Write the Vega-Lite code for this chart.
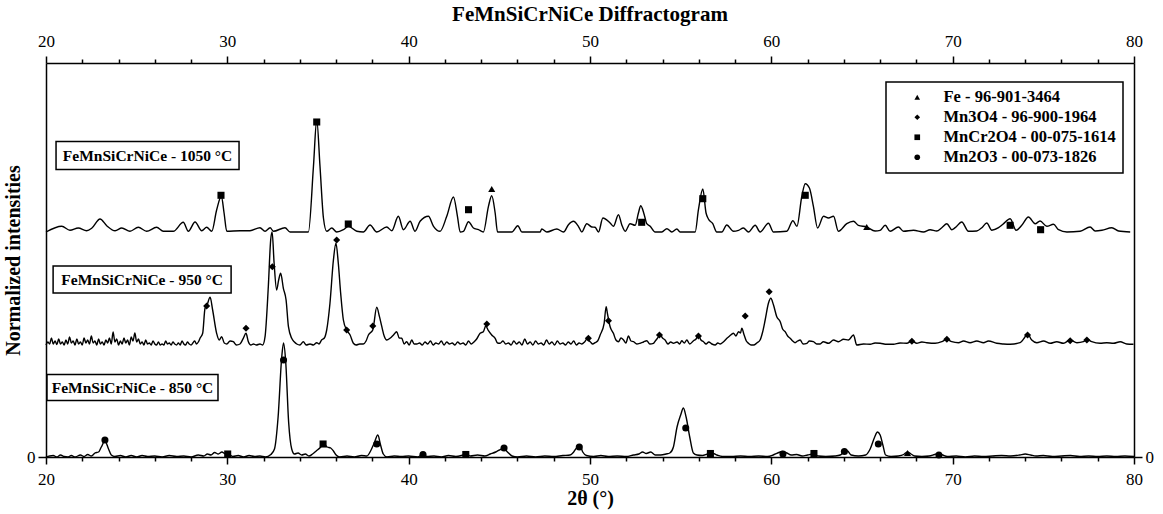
{
"$schema": "https://vega.github.io/schema/vega-lite/v6.json",
"width": 1088, "height": 394,
"autosize": "none",
"padding": {"left": 46, "top": 63, "right": 29, "bottom": 57},
"background": "white",
"title": {"text": "FeMnSiCrNiCe Diffractogram", "font": "Liberation Serif", "fontSize": 21, "fontWeight": "bold", "offset": 7, "anchor": "middle", "color": "black"},
"config": {
 "view": {"stroke": null},
 "axis": {"domainColor": "black", "domainWidth": 1.5, "tickColor": "black", "tickWidth": 1.5, "labelFont": "Liberation Serif", "labelFontSize": 17, "labelColor": "black", "titleFont": "Liberation Serif", "titleFontWeight": "bold", "titleFontSize": 20, "titleColor": "black", "grid": false, "labelFlush": false, "labelOverlap": false},
 "legend": {"strokeWidth": 1.5}
},
"resolve": {"axis": {"x": "independent", "y": "independent"}},
"datasets": {
"trace": [
{"s":"1050","t":20,"i":225},{"s":"1050","t":20.87,"i":230.7},{"s":"1050","t":21.32,"i":226.7},{"s":"1050","t":21.78,"i":229},{"s":"1050","t":22.24,"i":226.3},{"s":"1050","t":22.52,"i":228.7},{"s":"1050","t":22.98,"i":238},{"s":"1050","t":23.35,"i":231.3},{"s":"1050","t":23.81,"i":226.3},{"s":"1050","t":24.18,"i":229},{"s":"1050","t":24.63,"i":225.7},{"s":"1050","t":25.09,"i":229.7},{"s":"1050","t":25.55,"i":225.7},{"s":"1050","t":26.1,"i":229.7},{"s":"1050","t":26.47,"i":225.7},{"s":"1050","t":27.02,"i":225.7},{"s":"1050","t":27.57,"i":234.7},{"s":"1050","t":27.85,"i":225.7},{"s":"1050","t":28.22,"i":235},{"s":"1050","t":28.59,"i":226.3},{"s":"1050","t":28.86,"i":229.7},{"s":"1050","t":29.14,"i":225.7},{"s":"1050","t":29.41,"i":247},{"s":"1050","t":29.67,"i":260.7},{"s":"1050","t":29.82,"i":244},{"s":"1050","t":29.97,"i":225.7},{"s":"1050","t":30.71,"i":226.3},{"s":"1050","t":31.25,"i":226.3},{"s":"1050","t":31.8,"i":229.3},{"s":"1050","t":32.08,"i":225.7},{"s":"1050","t":32.36,"i":229.3},{"s":"1050","t":32.54,"i":225.7},{"s":"1050","t":33.18,"i":229.3},{"s":"1050","t":33.46,"i":225},{"s":"1050","t":34.47,"i":225},{"s":"1050","t":34.75,"i":290.7},{"s":"1050","t":34.93,"i":337.3},{"s":"1050","t":35.11,"i":290.7},{"s":"1050","t":35.3,"i":239},{"s":"1050","t":35.48,"i":225.7},{"s":"1050","t":35.76,"i":229},{"s":"1050","t":36.03,"i":225},{"s":"1050","t":36.4,"i":227.3},{"s":"1050","t":36.67,"i":230.7},{"s":"1050","t":37.14,"i":225.7},{"s":"1050","t":37.5,"i":225},{"s":"1050","t":37.87,"i":232},{"s":"1050","t":38.24,"i":225},{"s":"1050","t":38.79,"i":230},{"s":"1050","t":39.07,"i":226.3},{"s":"1050","t":39.43,"i":240.7},{"s":"1050","t":39.71,"i":227.3},{"s":"1050","t":40.08,"i":235.7},{"s":"1050","t":40.35,"i":225.7},{"s":"1050","t":40.63,"i":235.7},{"s":"1050","t":41.09,"i":240.7},{"s":"1050","t":41.37,"i":230.7},{"s":"1050","t":41.73,"i":225.7},{"s":"1050","t":42.1,"i":240.7},{"s":"1050","t":42.47,"i":260},{"s":"1050","t":42.69,"i":240.7},{"s":"1050","t":42.84,"i":225},{"s":"1050","t":43.02,"i":225.7},{"s":"1050","t":43.3,"i":235.3},{"s":"1050","t":43.57,"i":229},{"s":"1050","t":43.85,"i":227.3},{"s":"1050","t":44.12,"i":225},{"s":"1050","t":44.4,"i":250.7},{"s":"1050","t":44.58,"i":261.3},{"s":"1050","t":44.77,"i":244},{"s":"1050","t":44.9,"i":225},{"s":"1050","t":45.69,"i":225},{"s":"1050","t":46.02,"i":231.3},{"s":"1050","t":46.24,"i":225},{"s":"1050","t":47.25,"i":225},{"s":"1050","t":47.34,"i":228},{"s":"1050","t":47.62,"i":225},{"s":"1050","t":48.17,"i":228},{"s":"1050","t":48.54,"i":225},{"s":"1050","t":48.81,"i":232.3},{"s":"1050","t":49.09,"i":235.7},{"s":"1050","t":49.36,"i":230.7},{"s":"1050","t":49.55,"i":225},{"s":"1050","t":49.82,"i":233.3},{"s":"1050","t":50.1,"i":230},{"s":"1050","t":50.28,"i":229.7},{"s":"1050","t":50.47,"i":225},{"s":"1050","t":50.71,"i":239},{"s":"1050","t":51.11,"i":234},{"s":"1050","t":51.29,"i":230.7},{"s":"1050","t":51.57,"i":242.3},{"s":"1050","t":51.75,"i":232.3},{"s":"1050","t":51.94,"i":225.7},{"s":"1050","t":52.21,"i":233.3},{"s":"1050","t":52.49,"i":231.7},{"s":"1050","t":52.67,"i":244},{"s":"1050","t":52.8,"i":251.3},{"s":"1050","t":52.99,"i":242.3},{"s":"1050","t":53.13,"i":233.3},{"s":"1050","t":53.32,"i":230.7},{"s":"1050","t":53.59,"i":225},{"s":"1050","t":53.96,"i":225},{"s":"1050","t":54.24,"i":228.3},{"s":"1050","t":54.51,"i":225},{"s":"1050","t":54.79,"i":228},{"s":"1050","t":54.97,"i":225},{"s":"1050","t":55.8,"i":225},{"s":"1050","t":55.98,"i":247.3},{"s":"1050","t":56.22,"i":268},{"s":"1050","t":56.4,"i":244},{"s":"1050","t":56.53,"i":238},{"s":"1050","t":56.77,"i":233.3},{"s":"1050","t":56.99,"i":225},{"s":"1050","t":57.27,"i":225},{"s":"1050","t":57.54,"i":232},{"s":"1050","t":57.91,"i":225.7},{"s":"1050","t":58.19,"i":226.7},{"s":"1050","t":58.46,"i":229},{"s":"1050","t":58.74,"i":225},{"s":"1050","t":59.11,"i":231.7},{"s":"1050","t":59.38,"i":225},{"s":"1050","t":59.84,"i":233.7},{"s":"1050","t":60.12,"i":225},{"s":"1050","t":60.85,"i":225.7},{"s":"1050","t":61.19,"i":236.3},{"s":"1050","t":61.41,"i":230.7},{"s":"1050","t":61.68,"i":260.7},{"s":"1050","t":61.87,"i":273.3},{"s":"1050","t":62.1,"i":269},{"s":"1050","t":62.32,"i":250.7},{"s":"1050","t":62.55,"i":229},{"s":"1050","t":62.88,"i":240.7},{"s":"1050","t":63.15,"i":239},{"s":"1050","t":63.43,"i":240.7},{"s":"1050","t":63.7,"i":225.7},{"s":"1050","t":64.16,"i":233.3},{"s":"1050","t":64.53,"i":235.7},{"s":"1050","t":64.8,"i":231.7},{"s":"1050","t":65.26,"i":230},{"s":"1050","t":65.72,"i":226},{"s":"1050","t":66,"i":226.7},{"s":"1050","t":66.28,"i":231.7},{"s":"1050","t":66.55,"i":225.7},{"s":"1050","t":67.01,"i":230},{"s":"1050","t":67.29,"i":225.7},{"s":"1050","t":67.84,"i":226.7},{"s":"1050","t":68.39,"i":225},{"s":"1050","t":68.76,"i":227.3},{"s":"1050","t":69.12,"i":226},{"s":"1050","t":69.4,"i":229.3},{"s":"1050","t":69.68,"i":233.3},{"s":"1050","t":69.95,"i":227.3},{"s":"1050","t":70.14,"i":229.3},{"s":"1050","t":70.5,"i":235},{"s":"1050","t":70.87,"i":225.7},{"s":"1050","t":71.33,"i":226},{"s":"1050","t":71.61,"i":229.3},{"s":"1050","t":71.88,"i":234},{"s":"1050","t":72.16,"i":226.7},{"s":"1050","t":72.53,"i":229.3},{"s":"1050","t":72.77,"i":232.7},{"s":"1050","t":73.17,"i":238.3},{"s":"1050","t":73.5,"i":226.7},{"s":"1050","t":73.81,"i":231.7},{"s":"1050","t":74.18,"i":240},{"s":"1050","t":74.55,"i":233.3},{"s":"1050","t":74.82,"i":236},{"s":"1050","t":75.19,"i":230.7},{"s":"1050","t":75.56,"i":232.7},{"s":"1050","t":75.84,"i":227.3},{"s":"1050","t":76.3,"i":225},{"s":"1050","t":77.03,"i":225.7},{"s":"1050","t":77.58,"i":230},{"s":"1050","t":77.86,"i":226},{"s":"1050","t":78.23,"i":226.7},{"s":"1050","t":78.78,"i":229.3},{"s":"1050","t":79.15,"i":226},{"s":"1050","t":79.79,"i":225},
{"s":"950","t":20,"i":112},{"s":"950","t":20.1,"i":115},{"s":"950","t":20.2,"i":113},{"s":"950","t":20.3,"i":119},{"s":"950","t":20.4,"i":113},{"s":"950","t":20.5,"i":116},{"s":"950","t":20.6,"i":112.5},{"s":"950","t":20.7,"i":118},{"s":"950","t":20.8,"i":113},{"s":"950","t":20.9,"i":115},{"s":"950","t":21,"i":112},{"s":"950","t":21.1,"i":117},{"s":"950","t":21.2,"i":113},{"s":"950","t":21.3,"i":120},{"s":"950","t":21.4,"i":114},{"s":"950","t":21.5,"i":116},{"s":"950","t":21.6,"i":112},{"s":"950","t":21.7,"i":118},{"s":"950","t":21.8,"i":113},{"s":"950","t":21.9,"i":115},{"s":"950","t":22,"i":112},{"s":"950","t":22.1,"i":119},{"s":"950","t":22.2,"i":114},{"s":"950","t":22.3,"i":117},{"s":"950","t":22.4,"i":113},{"s":"950","t":22.5,"i":121},{"s":"950","t":22.6,"i":114},{"s":"950","t":22.7,"i":116},{"s":"950","t":22.8,"i":112},{"s":"950","t":22.9,"i":118},{"s":"950","t":23,"i":113},{"s":"950","t":23.1,"i":115},{"s":"950","t":23.2,"i":112},{"s":"950","t":23.3,"i":117},{"s":"950","t":23.4,"i":114},{"s":"950","t":23.5,"i":119},{"s":"950","t":23.6,"i":113},{"s":"950","t":23.7,"i":125},{"s":"950","t":23.8,"i":115},{"s":"950","t":23.9,"i":118},{"s":"950","t":24,"i":112},{"s":"950","t":24.1,"i":116},{"s":"950","t":24.2,"i":113},{"s":"950","t":24.3,"i":119},{"s":"950","t":24.4,"i":114},{"s":"950","t":24.5,"i":117},{"s":"950","t":24.6,"i":112},{"s":"950","t":24.7,"i":120},{"s":"950","t":24.8,"i":116},{"s":"950","t":24.9,"i":124},{"s":"950","t":25,"i":115},{"s":"950","t":25.1,"i":118},{"s":"950","t":25.2,"i":113},{"s":"950","t":25.3,"i":115},{"s":"950","t":25.4,"i":112},{"s":"950","t":25.5,"i":117},{"s":"950","t":25.6,"i":113},{"s":"950","t":25.7,"i":114},{"s":"950","t":25.8,"i":112},{"s":"950","t":25.9,"i":116},{"s":"950","t":26,"i":113},{"s":"950","t":26.1,"i":112},{"s":"950","t":26.2,"i":115},{"s":"950","t":26.3,"i":112},{"s":"950","t":26.4,"i":113},{"s":"950","t":26.5,"i":112},{"s":"950","t":26.6,"i":116},{"s":"950","t":26.7,"i":113},{"s":"950","t":26.8,"i":114},{"s":"950","t":26.9,"i":112},{"s":"950","t":27,"i":115},{"s":"950","t":27.1,"i":113},{"s":"950","t":27.2,"i":112},{"s":"950","t":27.3,"i":114},{"s":"950","t":27.4,"i":112},{"s":"950","t":27.5,"i":116},{"s":"950","t":27.6,"i":113},{"s":"950","t":27.7,"i":112},{"s":"950","t":27.8,"i":115},{"s":"950","t":27.9,"i":113},{"s":"950","t":28,"i":112},{"s":"950","t":28.1,"i":114},{"s":"950","t":28.2,"i":116},{"s":"950","t":28.3,"i":113},{"s":"950","t":28.4,"i":115},{"s":"950","t":28.5,"i":119},
{"s":"950","t":28.64,"i":123.7},{"s":"950","t":28.77,"i":148.7},{"s":"950","t":28.86,"i":151},{"s":"950","t":29.05,"i":159.7},{"s":"950","t":29.19,"i":147},{"s":"950","t":29.41,"i":123.7},{"s":"950","t":29.55,"i":117},{"s":"950","t":29.69,"i":120.3},{"s":"950","t":29.83,"i":114},{"s":"950","t":29.97,"i":113},{"s":"950","t":30.15,"i":116},{"s":"950","t":30.33,"i":115.3},{"s":"950","t":30.5,"i":112},{"s":"950","t":30.7,"i":113},{"s":"950","t":30.88,"i":118.7},{"s":"950","t":31.03,"i":123.7},{"s":"950","t":31.16,"i":115.3},{"s":"950","t":31.3,"i":112},{"s":"950","t":31.44,"i":113},{"s":"950","t":31.6,"i":112},{"s":"950","t":31.8,"i":113},{"s":"950","t":31.95,"i":112},{"s":"950","t":32.08,"i":120.3},{"s":"950","t":32.26,"i":170.3},{"s":"950","t":32.39,"i":217},{"s":"950","t":32.47,"i":225},{"s":"950","t":32.58,"i":193.7},{"s":"950","t":32.72,"i":167},{"s":"950","t":32.83,"i":177},{"s":"950","t":32.94,"i":183.7},{"s":"950","t":33.09,"i":168.7},{"s":"950","t":33.24,"i":157},{"s":"950","t":33.37,"i":130.3},{"s":"950","t":33.55,"i":118.7},{"s":"950","t":33.7,"i":115},{"s":"950","t":33.83,"i":113},{"s":"950","t":34,"i":112},{"s":"950","t":34.19,"i":115.3},{"s":"950","t":34.35,"i":112},{"s":"950","t":34.56,"i":113},{"s":"950","t":34.75,"i":112},{"s":"950","t":34.93,"i":114.3},{"s":"950","t":35.05,"i":113},{"s":"950","t":35.2,"i":117},{"s":"950","t":35.35,"i":119},{"s":"950","t":35.48,"i":127},{"s":"950","t":35.66,"i":153.7},{"s":"950","t":35.85,"i":197},{"s":"950","t":35.99,"i":213.7},{"s":"950","t":36.12,"i":193.7},{"s":"950","t":36.25,"i":163.7},{"s":"950","t":36.4,"i":137},{"s":"950","t":36.58,"i":127},{"s":"950","t":36.77,"i":122},{"s":"950","t":36.95,"i":113.7},{"s":"950","t":37.1,"i":112},{"s":"950","t":37.3,"i":113},{"s":"950","t":37.5,"i":113},{"s":"950","t":37.65,"i":116},{"s":"950","t":37.78,"i":122},{"s":"950","t":38.02,"i":127},{"s":"950","t":38.24,"i":149.7},{"s":"950","t":38.39,"i":140.3},{"s":"950","t":38.52,"i":130.3},{"s":"950","t":38.65,"i":121},{"s":"950","t":38.79,"i":117},{"s":"950","t":38.97,"i":118.7},{"s":"950","t":39.16,"i":122},{"s":"950","t":39.34,"i":125.3},{"s":"950","t":39.48,"i":119},{"s":"950","t":39.62,"i":118.7},{"s":"950","t":39.75,"i":113},{"s":"950","t":39.89,"i":115.3},{"s":"950","t":40.03,"i":112},{"s":"950","t":40.17,"i":117},{"s":"950","t":40.3,"i":113},{"s":"950","t":40.45,"i":113},
{"s":"950","t":40.6,"i":114},{"s":"950","t":40.75,"i":112},{"s":"950","t":40.9,"i":115},{"s":"950","t":41.05,"i":113},{"s":"950","t":41.2,"i":116},{"s":"950","t":41.35,"i":112},{"s":"950","t":41.5,"i":114},{"s":"950","t":41.65,"i":113},{"s":"950","t":41.8,"i":116},{"s":"950","t":41.95,"i":112},{"s":"950","t":42.1,"i":115},{"s":"950","t":42.25,"i":113},{"s":"950","t":42.4,"i":114},{"s":"950","t":42.55,"i":112},{"s":"950","t":42.7,"i":115},{"s":"950","t":42.85,"i":113},{"s":"950","t":43,"i":114},{"s":"950","t":43.15,"i":112},{"s":"950","t":43.3,"i":116},{"s":"950","t":43.45,"i":113},{"s":"950","t":43.6,"i":115},{"s":"950","t":43.75,"i":118},
{"s":"950","t":43.94,"i":123.7},{"s":"950","t":44.12,"i":125.3},{"s":"950","t":44.25,"i":131},{"s":"950","t":44.4,"i":126.3},{"s":"950","t":44.58,"i":122},{"s":"950","t":44.77,"i":118.7},{"s":"950","t":44.9,"i":114},{"s":"950","t":45.04,"i":113.7},
{"s":"950","t":45.2,"i":116},{"s":"950","t":45.35,"i":113},{"s":"950","t":45.5,"i":114},{"s":"950","t":45.65,"i":112},{"s":"950","t":45.8,"i":116},{"s":"950","t":45.95,"i":113},{"s":"950","t":46.1,"i":115},{"s":"950","t":46.25,"i":112},{"s":"950","t":46.4,"i":118},{"s":"950","t":46.55,"i":113},{"s":"950","t":46.7,"i":115},{"s":"950","t":46.85,"i":112},{"s":"950","t":47,"i":116},{"s":"950","t":47.15,"i":113},{"s":"950","t":47.3,"i":114},{"s":"950","t":47.45,"i":112},{"s":"950","t":47.6,"i":117},{"s":"950","t":47.75,"i":113},{"s":"950","t":47.9,"i":115},{"s":"950","t":48.05,"i":112},{"s":"950","t":48.2,"i":116},{"s":"950","t":48.35,"i":113},{"s":"950","t":48.5,"i":114},{"s":"950","t":48.65,"i":112},{"s":"950","t":48.8,"i":115},{"s":"950","t":48.95,"i":113},{"s":"950","t":49.1,"i":116},{"s":"950","t":49.25,"i":112},{"s":"950","t":49.4,"i":114},{"s":"950","t":49.55,"i":113},{"s":"950","t":49.7,"i":115},
{"s":"950","t":49.82,"i":117.7},{"s":"950","t":50.01,"i":115.3},{"s":"950","t":50.15,"i":113},{"s":"950","t":50.28,"i":114.3},{"s":"950","t":50.42,"i":116},{"s":"950","t":50.56,"i":122},{"s":"950","t":50.78,"i":133.7},{"s":"950","t":50.89,"i":150.3},{"s":"950","t":50.96,"i":143.7},{"s":"950","t":51.11,"i":130.3},{"s":"950","t":51.29,"i":123.7},{"s":"950","t":51.43,"i":117},{"s":"950","t":51.57,"i":115.3},{"s":"950","t":51.71,"i":119},{"s":"950","t":51.85,"i":117},{"s":"950","t":51.98,"i":114},{"s":"950","t":52.12,"i":121},{"s":"950","t":52.26,"i":116},{"s":"950","t":52.4,"i":115.3},{"s":"950","t":52.58,"i":113},{"s":"950","t":52.76,"i":113.7},{"s":"950","t":52.95,"i":115},{"s":"950","t":53.13,"i":116.3},{"s":"950","t":53.3,"i":113},{"s":"950","t":53.5,"i":113.7},{"s":"950","t":53.6,"i":116},{"s":"950","t":53.72,"i":118.7},{"s":"950","t":53.87,"i":122},{"s":"950","t":54,"i":119},{"s":"950","t":54.14,"i":117},{"s":"950","t":54.3,"i":113},{"s":"950","t":54.45,"i":115},{"s":"950","t":54.6,"i":113.7},{"s":"950","t":54.8,"i":115},{"s":"950","t":54.95,"i":113},{"s":"950","t":55.06,"i":116.3},{"s":"950","t":55.2,"i":114},{"s":"950","t":55.34,"i":117},{"s":"950","t":55.5,"i":113},{"s":"950","t":55.71,"i":116.3},{"s":"950","t":55.85,"i":118},{"s":"950","t":55.98,"i":122},{"s":"950","t":56.12,"i":117},{"s":"950","t":56.26,"i":115.3},{"s":"950","t":56.4,"i":113},{"s":"950","t":56.55,"i":115},{"s":"950","t":56.72,"i":113},{"s":"950","t":56.9,"i":112},{"s":"950","t":57.05,"i":114},{"s":"950","t":57.18,"i":113},{"s":"950","t":57.35,"i":115},{"s":"950","t":57.55,"i":118.7},{"s":"950","t":57.7,"i":121},{"s":"950","t":57.91,"i":123.7},{"s":"950","t":58.05,"i":121},{"s":"950","t":58.19,"i":125.3},{"s":"950","t":58.3,"i":124},{"s":"950","t":58.37,"i":128.7},{"s":"950","t":58.5,"i":122},{"s":"950","t":58.62,"i":116},{"s":"950","t":58.74,"i":113.7},{"s":"950","t":58.88,"i":112},{"s":"950","t":59.02,"i":112},{"s":"950","t":59.2,"i":114},{"s":"950","t":59.38,"i":117},{"s":"950","t":59.52,"i":125},{"s":"950","t":59.66,"i":137},{"s":"950","t":59.84,"i":153.7},{"s":"950","t":59.97,"i":158.7},{"s":"950","t":60.12,"i":152},{"s":"950","t":60.3,"i":140.3},{"s":"950","t":60.49,"i":135.3},{"s":"950","t":60.62,"i":128},{"s":"950","t":60.76,"i":125.3},{"s":"950","t":60.9,"i":121},{"s":"950","t":61.04,"i":118.7},{"s":"950","t":61.18,"i":116},{"s":"950","t":61.31,"i":114.3},{"s":"950","t":61.45,"i":116},{"s":"950","t":61.59,"i":117},{"s":"950","t":61.75,"i":113},{"s":"950","t":61.96,"i":113.7},{"s":"950","t":62.1,"i":116},{"s":"950","t":62.32,"i":115.3},{"s":"950","t":62.5,"i":113},{"s":"950","t":62.69,"i":113},
{"s":"950","t":62.87,"i":115.3},{"s":"950","t":63.15,"i":113.7},{"s":"950","t":63.43,"i":117},{"s":"950","t":63.7,"i":115.3},{"s":"950","t":63.98,"i":117.7},{"s":"950","t":64.25,"i":117},{"s":"950","t":64.53,"i":122},{"s":"950","t":64.71,"i":112},{"s":"950","t":65.08,"i":113},{"s":"950","t":65.45,"i":112.7},{"s":"950","t":65.72,"i":114},{"s":"950","t":66,"i":113.7},{"s":"950","t":66.37,"i":112.7},{"s":"950","t":66.73,"i":112.7},{"s":"950","t":67.1,"i":114},{"s":"950","t":67.47,"i":113.7},{"s":"950","t":67.75,"i":116},{"s":"950","t":68.02,"i":113.7},{"s":"950","t":68.3,"i":115},{"s":"950","t":68.57,"i":114.3},{"s":"950","t":69.03,"i":113.7},{"s":"950","t":69.4,"i":115.3},{"s":"950","t":69.68,"i":117.7},{"s":"950","t":69.95,"i":115.3},{"s":"950","t":70.32,"i":114.3},{"s":"950","t":70.6,"i":116},{"s":"950","t":70.96,"i":114.3},{"s":"950","t":71.33,"i":116},{"s":"950","t":71.7,"i":114.3},{"s":"950","t":71.97,"i":116},{"s":"950","t":72.43,"i":113.7},{"s":"950","t":72.8,"i":113},{"s":"950","t":73.17,"i":112.7},{"s":"950","t":73.72,"i":114.3},{"s":"950","t":73.94,"i":118.7},{"s":"950","t":74.13,"i":123},{"s":"950","t":74.36,"i":117},{"s":"950","t":74.64,"i":114.3},{"s":"950","t":75.01,"i":116},{"s":"950","t":75.38,"i":113.7},{"s":"950","t":75.74,"i":115.3},{"s":"950","t":76.11,"i":113.7},{"s":"950","t":76.48,"i":117},{"s":"950","t":76.85,"i":114.3},{"s":"950","t":77.21,"i":115.3},{"s":"950","t":77.4,"i":117.7},{"s":"950","t":77.67,"i":115.3},{"s":"950","t":78.13,"i":113.7},{"s":"950","t":78.5,"i":114.3},{"s":"950","t":78.87,"i":113.7},{"s":"950","t":79.24,"i":115.3},{"s":"950","t":79.6,"i":113},{"s":"950","t":79.97,"i":112.7},
{"s":"850","t":20,"i":0},{"s":"850","t":20.2,"i":1},{"s":"850","t":20.4,"i":1.5},{"s":"850","t":20.6,"i":0},{"s":"850","t":20.8,"i":2},{"s":"850","t":21,"i":0.5},{"s":"850","t":21.2,"i":0},{"s":"850","t":21.4,"i":1.5},{"s":"850","t":21.6,"i":0},{"s":"850","t":21.9,"i":2},{"s":"850","t":22.1,"i":0.5},{"s":"850","t":22.3,"i":2.5},{"s":"850","t":22.5,"i":1},{"s":"850","t":22.7,"i":4},{"s":"850","t":22.9,"i":5},{"s":"850","t":23.05,"i":10},{"s":"850","t":23.25,"i":16},{"s":"850","t":23.45,"i":8},{"s":"850","t":23.6,"i":2},{"s":"850","t":23.8,"i":0.5},{"s":"850","t":24.1,"i":1.5},{"s":"850","t":24.4,"i":0},{"s":"850","t":24.7,"i":1.5},{"s":"850","t":25,"i":0},{"s":"850","t":25.3,"i":1.5},{"s":"850","t":25.6,"i":0.5},{"s":"850","t":26,"i":1},{"s":"850","t":26.4,"i":0},{"s":"850","t":26.8,"i":1.5},{"s":"850","t":27.2,"i":0.5},{"s":"850","t":27.6,"i":1},{"s":"850","t":28,"i":0},{"s":"850","t":28.4,"i":2},{"s":"850","t":28.7,"i":1},{"s":"850","t":28.9,"i":3},{"s":"850","t":29.1,"i":2},{"s":"850","t":29.3,"i":4.5},{"s":"850","t":29.5,"i":3},{"s":"850","t":29.7,"i":5},{"s":"850","t":29.9,"i":3},{"s":"850","t":30.05,"i":3},{"s":"850","t":30.3,"i":0.5},{"s":"850","t":30.6,"i":1.5},{"s":"850","t":30.9,"i":0},{"s":"850","t":31.2,"i":1.5},{"s":"850","t":31.5,"i":0.5},{"s":"850","t":31.8,"i":1},{"s":"850","t":32.1,"i":0},{"s":"850","t":32.4,"i":2.5},{"s":"850","t":32.6,"i":8},{"s":"850","t":32.8,"i":40},{"s":"850","t":33,"i":100},{"s":"850","t":33.1,"i":114},{"s":"850","t":33.22,"i":95},{"s":"850","t":33.38,"i":35},{"s":"850","t":33.55,"i":8},{"s":"850","t":33.7,"i":3},{"s":"850","t":33.9,"i":4},{"s":"850","t":34.1,"i":2},{"s":"850","t":34.3,"i":3},{"s":"850","t":34.5,"i":1},{"s":"850","t":34.7,"i":3},{"s":"850","t":34.9,"i":6},{"s":"850","t":35.1,"i":9},{"s":"850","t":35.3,"i":13},{"s":"850","t":35.5,"i":10},{"s":"850","t":35.7,"i":9},{"s":"850","t":35.85,"i":6},{"s":"850","t":36,"i":2},{"s":"850","t":36.2,"i":0},{"s":"850","t":36.6,"i":1},{"s":"850","t":37,"i":0},{"s":"850","t":37.4,"i":1.5},{"s":"850","t":37.7,"i":1},{"s":"850","t":37.9,"i":6},{"s":"850","t":38.1,"i":14},{"s":"850","t":38.3,"i":22},{"s":"850","t":38.45,"i":12},{"s":"850","t":38.6,"i":3},{"s":"850","t":38.8,"i":0},{"s":"850","t":39.2,"i":1},{"s":"850","t":39.6,"i":0.5},{"s":"850","t":40,"i":1},{"s":"850","t":40.5,"i":0},{"s":"850","t":40.8,"i":3},{"s":"850","t":41,"i":0.5},{"s":"850","t":41.4,"i":1},{"s":"850","t":41.8,"i":0},{"s":"850","t":42.2,"i":1.5},{"s":"850","t":42.6,"i":0.5},{"s":"850","t":43,"i":2},{"s":"850","t":43.2,"i":3},{"s":"850","t":43.4,"i":1},{"s":"850","t":43.8,"i":2},{"s":"850","t":44.2,"i":1},{"s":"850","t":44.5,"i":3},{"s":"850","t":44.8,"i":5},{"s":"850","t":45,"i":7},{"s":"850","t":45.25,"i":9},{"s":"850","t":45.45,"i":5},{"s":"850","t":45.7,"i":1},{"s":"850","t":46,"i":0},{"s":"850","t":46.5,"i":1},{"s":"850","t":47,"i":0},{"s":"850","t":47.5,"i":1},{"s":"850","t":48,"i":0.5},{"s":"850","t":48.5,"i":1.5},{"s":"850","t":48.9,"i":2},{"s":"850","t":49.1,"i":5},{"s":"850","t":49.3,"i":10},{"s":"850","t":49.45,"i":11},{"s":"850","t":49.6,"i":5},{"s":"850","t":49.8,"i":1.5},{"s":"850","t":50.2,"i":0.5},{"s":"850","t":50.6,"i":1.5},{"s":"850","t":51,"i":0.5},{"s":"850","t":51.5,"i":1},{"s":"850","t":52,"i":0.5},{"s":"850","t":52.4,"i":2},{"s":"850","t":52.7,"i":3},{"s":"850","t":52.9,"i":5},{"s":"850","t":53.1,"i":3.5},{"s":"850","t":53.35,"i":5},{"s":"850","t":53.6,"i":2},{"s":"850","t":53.9,"i":2},{"s":"850","t":54.2,"i":3},{"s":"850","t":54.4,"i":4},{"s":"850","t":54.6,"i":10},{"s":"850","t":54.8,"i":30},{"s":"850","t":55,"i":42},{"s":"850","t":55.15,"i":49},{"s":"850","t":55.3,"i":40},{"s":"850","t":55.5,"i":20},{"s":"850","t":55.7,"i":4},{"s":"850","t":55.9,"i":2},{"s":"850","t":56.2,"i":1.5},{"s":"850","t":56.5,"i":3},{"s":"850","t":56.8,"i":3.5},{"s":"850","t":57,"i":2},{"s":"850","t":57.3,"i":0.5},{"s":"850","t":57.8,"i":0.5},{"s":"850","t":58.3,"i":1},{"s":"850","t":58.8,"i":0.5},{"s":"850","t":59.3,"i":1},{"s":"850","t":59.8,"i":0.5},{"s":"850","t":60.1,"i":2},{"s":"850","t":60.35,"i":4},{"s":"850","t":60.6,"i":5.5},{"s":"850","t":60.85,"i":4},{"s":"850","t":61.1,"i":2},{"s":"850","t":61.4,"i":2.5},{"s":"850","t":61.7,"i":1},{"s":"850","t":62,"i":2},{"s":"850","t":62.3,"i":3},{"s":"850","t":62.6,"i":1},{"s":"850","t":63,"i":0.5},{"s":"850","t":63.5,"i":1},{"s":"850","t":63.8,"i":2},{"s":"850","t":64,"i":5},{"s":"850","t":64.2,"i":6},{"s":"850","t":64.4,"i":2},{"s":"850","t":64.8,"i":1},{"s":"850","t":65.2,"i":2},{"s":"850","t":65.45,"i":8},{"s":"850","t":65.7,"i":20},{"s":"850","t":65.85,"i":25},{"s":"850","t":66,"i":22},{"s":"850","t":66.15,"i":12},{"s":"850","t":66.3,"i":2},{"s":"850","t":66.6,"i":0.5},{"s":"850","t":67,"i":1},{"s":"850","t":67.3,"i":2.5},{"s":"850","t":67.5,"i":5},{"s":"850","t":67.7,"i":3},{"s":"850","t":67.9,"i":1},{"s":"850","t":68.3,"i":0.5},{"s":"850","t":68.7,"i":1},{"s":"850","t":69,"i":2.5},{"s":"850","t":69.2,"i":3.5},{"s":"850","t":69.45,"i":2},{"s":"850","t":69.7,"i":0.5},{"s":"850","t":70.2,"i":1},{"s":"850","t":70.7,"i":0},{"s":"850","t":71.2,"i":1},{"s":"850","t":71.7,"i":0.5},{"s":"850","t":72.2,"i":1},{"s":"850","t":72.7,"i":1.5},{"s":"850","t":73.2,"i":1},{"s":"850","t":73.7,"i":2},{"s":"850","t":74,"i":3},{"s":"850","t":74.3,"i":2},{"s":"850","t":74.6,"i":1},{"s":"850","t":75,"i":1.5},{"s":"850","t":75.5,"i":0.5},{"s":"850","t":76,"i":1},{"s":"850","t":76.5,"i":1.5},{"s":"850","t":77,"i":0.5},{"s":"850","t":77.5,"i":1},{"s":"850","t":78,"i":0.5},{"s":"850","t":78.5,"i":1},{"s":"850","t":79,"i":0.5},{"s":"850","t":79.5,"i":1},{"s":"850","t":80,"i":0.5}
],
"marks": [
{"p":"MnCr2O4 - 00-075-1614","t":29.65,"i":261.7},{"p":"MnCr2O4 - 00-075-1614","t":34.93,"i":335},{"p":"MnCr2O4 - 00-075-1614","t":36.67,"i":233},{"p":"MnCr2O4 - 00-075-1614","t":43.3,"i":247.3},{"p":"Fe - 96-901-3464","t":44.58,"i":268},{"p":"MnCr2O4 - 00-075-1614","t":52.85,"i":234.7},{"p":"MnCr2O4 - 00-075-1614","t":56.22,"i":258.3},{"p":"MnCr2O4 - 00-075-1614","t":61.87,"i":261.7},{"p":"Fe - 96-901-3464","t":65.26,"i":230},{"p":"MnCr2O4 - 00-075-1614","t":73.17,"i":231.7},{"p":"MnCr2O4 - 00-075-1614","t":74.85,"i":227.3},
{"p":"Mn3O4 - 96-900-1964","t":28.86,"i":151},{"p":"Mn3O4 - 96-900-1964","t":31.03,"i":128.7},{"p":"Mn3O4 - 96-900-1964","t":32.48,"i":190.3},{"p":"Mn3O4 - 96-900-1964","t":36.03,"i":217},{"p":"Mn3O4 - 96-900-1964","t":36.58,"i":127},{"p":"Mn3O4 - 96-900-1964","t":38.02,"i":131},{"p":"Mn3O4 - 96-900-1964","t":44.31,"i":133},{"p":"Mn3O4 - 96-900-1964","t":49.91,"i":118.7},{"p":"Mn3O4 - 96-900-1964","t":51.02,"i":136.3},{"p":"Mn3O4 - 96-900-1964","t":53.83,"i":122},{"p":"Mn3O4 - 96-900-1964","t":55.98,"i":121},{"p":"Mn3O4 - 96-900-1964","t":58.56,"i":141},{"p":"Mn3O4 - 96-900-1964","t":59.88,"i":165.3},{"p":"Mn3O4 - 96-900-1964","t":67.75,"i":115.7},{"p":"Mn3O4 - 96-900-1964","t":69.68,"i":117.7},{"p":"Mn3O4 - 96-900-1964","t":74.13,"i":122},{"p":"Mn3O4 - 96-900-1964","t":76.48,"i":116.3},{"p":"Mn3O4 - 96-900-1964","t":77.4,"i":117},
{"p":"Mn2O3 - 00-073-1826","t":23.25,"i":17},{"p":"MnCr2O4 - 00-075-1614","t":30.02,"i":3},{"p":"Mn2O3 - 00-073-1826","t":33.1,"i":97},{"p":"MnCr2O4 - 00-075-1614","t":35.28,"i":13},{"p":"Mn2O3 - 00-073-1826","t":38.24,"i":13},{"p":"Mn2O3 - 00-073-1826","t":40.79,"i":2.5},{"p":"MnCr2O4 - 00-075-1614","t":43.15,"i":2.5},{"p":"Mn2O3 - 00-073-1826","t":45.26,"i":9},{"p":"Mn2O3 - 00-073-1826","t":49.41,"i":10},{"p":"Mn2O3 - 00-073-1826","t":55.28,"i":29},{"p":"MnCr2O4 - 00-075-1614","t":56.64,"i":3.5},{"p":"Mn2O3 - 00-073-1826","t":60.64,"i":3},{"p":"MnCr2O4 - 00-075-1614","t":62.35,"i":3.5},{"p":"Mn2O3 - 00-073-1826","t":64.03,"i":5.5},{"p":"Mn2O3 - 00-073-1826","t":65.9,"i":13},{"p":"Fe - 96-901-3464","t":67.51,"i":4},{"p":"Mn2O3 - 00-073-1826","t":69.24,"i":2}
],
"labels": [
{"l":"FeMnSiCrNiCe - 1050 °C","t":25.6,"i":301.5},
{"l":"FeMnSiCrNiCe - 950 °C","t":25.3,"i":177.5},
{"l":"FeMnSiCrNiCe - 850 °C","t":24.77,"i":69.5}
]
},
"layer": [
{"data": {"name": "trace"},
 "mark": {"type": "line", "color": "black", "strokeWidth": 1.4, "interpolate": "monotone"},
 "encoding": {
  "x": {"field": "t", "type": "quantitative", "scale": {"domain": [20, 80], "nice": false, "zero": false},
        "axis": {"orient": "bottom", "title": "2θ (°)", "values": [20,22,24,26,28,30,32,34,36,38,40,42,44,46,48,50,52,54,56,58,60,62,64,66,68,70,72,74,76,78,80],
                 "labelExpr": "datum.value % 10 === 0 ? datum.label : ''",
                 "tickSize": {"condition": {"test": "datum.value % 10 === 0", "value": 7}, "value": 4},
                 "labelPadding": 7, "titlePadding": 1}},
  "y": {"field": "i", "type": "quantitative", "scale": {"domain": [0, 394], "nice": false, "zero": false},
        "axis": {"orient": "left", "title": "Normalized intensities", "values": [0], "tickSize": 8, "labelPadding": 3, "titlePadding": 3}},
  "detail": {"field": "s", "type": "nominal"}
 }},
{"data": {"name": "labels"},
 "mark": {"type": "point", "shape": "M-1,-0.153L1,-0.153L1,0.153L-1,0.153Z", "filled": true, "fill": "white", "stroke": "black", "strokeWidth": 1.5, "opacity": 1},
 "encoding": {
  "x": {"field": "t", "type": "quantitative", "scale": {"domain": [20, 80], "nice": false, "zero": false}, "axis": null},
  "y": {"field": "i", "type": "quantitative", "scale": {"domain": [0, 394], "nice": false, "zero": false}, "axis": null},
  "size": {"field": "l", "type": "ordinal", "scale": {"type": "ordinal", "domain": ["FeMnSiCrNiCe - 1050 °C", "FeMnSiCrNiCe - 950 °C", "FeMnSiCrNiCe - 850 °C"], "range": [33489, 31684, 29241]}, "legend": null}
 }},
{"data": {"name": "labels"},
 "mark": {"type": "text", "font": "Liberation Serif", "fontSize": 15.5, "fontWeight": "bold", "color": "black"},
 "encoding": {
  "x": {"field": "t", "type": "quantitative", "scale": {"domain": [20, 80], "nice": false, "zero": false}, "axis": null},
  "y": {"field": "i", "type": "quantitative", "scale": {"domain": [0, 394], "nice": false, "zero": false}, "axis": null},
  "text": {"field": "l", "type": "nominal"}
 }},
{"data": {"name": "marks"},
 "mark": {"type": "point", "filled": true, "color": "black", "size": 50, "opacity": 1},
 "encoding": {
  "x": {"field": "t", "type": "quantitative", "scale": {"domain": [20, 80], "nice": false, "zero": false},
        "axis": {"orient": "top", "title": null, "values": [20,22,24,26,28,30,32,34,36,38,40,42,44,46,48,50,52,54,56,58,60,62,64,66,68,70,72,74,76,78,80],
                 "labelExpr": "datum.value % 10 === 0 ? datum.label : ''",
                 "tickSize": {"condition": {"test": "datum.value % 10 === 0", "value": 7}, "value": 4},
                 "labelPadding": 6}},
  "y": {"field": "i", "type": "quantitative", "scale": {"domain": [0, 394], "nice": false, "zero": false},
        "axis": {"orient": "right", "title": null, "values": [0], "tickSize": 8, "labelPadding": 3}},
  "shape": {"field": "p", "type": "nominal",
            "scale": {"domain": ["Fe - 96-901-3464", "Mn3O4 - 96-900-1964", "MnCr2O4 - 00-075-1614", "Mn2O3 - 00-073-1826"], "range": ["triangle-up", "diamond", "square", "circle"]},
            "legend": {"title": null, "orient": "none", "legendX": 840, "legendY": 19, "strokeColor": "black", "fillColor": "white", "padding": 7,
                       "labelFont": "Liberation Serif", "labelFontSize": 16.5, "labelFontWeight": "bold", "labelColor": "black", "labelLimit": 400,
                       "symbolSize": 32, "symbolFillColor": "black", "symbolStrokeColor": "black", "symbolStrokeWidth": 0,
                       "symbolOffset": 16, "labelOffset": 18, "rowPadding": 3}}
 }}
]
}
